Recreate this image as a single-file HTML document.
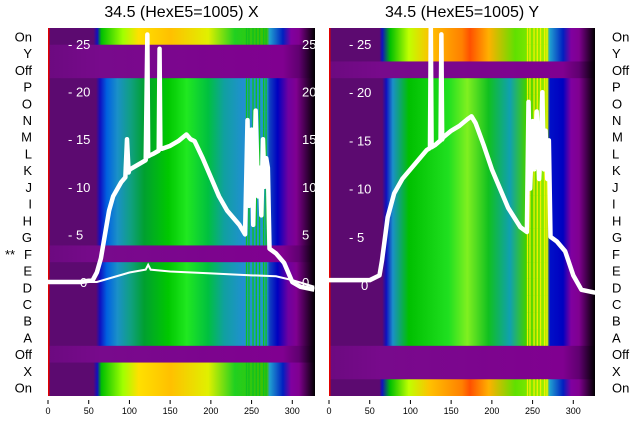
<!DOCTYPE html>
<html><head><meta charset="utf-8"><style>
body{margin:0;background:#fff;width:640px;height:440px;overflow:hidden;font-family:"Liberation Sans","DejaVu Sans",sans-serif}
svg{display:block}
</style></head><body>
<svg id="c" width="640" height="440" xmlns="http://www.w3.org/2000/svg">
<defs>
<linearGradient id="gData" x1="0" x2="1" y1="0" y2="0">
<stop offset="0" stop-color="#5c0a70"/><stop offset="0.18" stop-color="#5c0a70"/><stop offset="0.195" stop-color="#1010c0"/><stop offset="0.22" stop-color="#0060e0"/><stop offset="0.26" stop-color="#1a90c8"/><stop offset="0.31" stop-color="#10a080"/><stop offset="0.36" stop-color="#00a030"/><stop offset="0.45" stop-color="#00c800"/><stop offset="0.52" stop-color="#20e820"/><stop offset="0.6" stop-color="#00c040"/><stop offset="0.66" stop-color="#10a0a0"/><stop offset="0.73" stop-color="#2090d0"/><stop offset="0.82" stop-color="#2098c8"/><stop offset="0.83" stop-color="#1040c0"/><stop offset="0.86" stop-color="#0000c0"/><stop offset="0.9" stop-color="#7000a0"/><stop offset="0.93" stop-color="#800090"/><stop offset="1" stop-color="#000"/>
</linearGradient>
<linearGradient id="gDataR" x1="0" x2="1" y1="0" y2="0">
<stop offset="0" stop-color="#5c0a70"/><stop offset="0.2" stop-color="#5c0a70"/><stop offset="0.215" stop-color="#1010c0"/><stop offset="0.24" stop-color="#1a90c8"/><stop offset="0.3" stop-color="#00c000"/><stop offset="0.45" stop-color="#20e020"/><stop offset="0.52" stop-color="#80f020"/><stop offset="0.6" stop-color="#10c020"/><stop offset="0.68" stop-color="#10a0b0"/><stop offset="0.74" stop-color="#40d000"/><stop offset="0.82" stop-color="#a0f000"/><stop offset="0.83" stop-color="#0010c8"/><stop offset="0.88" stop-color="#0000c0"/><stop offset="0.91" stop-color="#8000a0"/><stop offset="0.94" stop-color="#800090"/><stop offset="1" stop-color="#000"/>
</linearGradient>
<linearGradient id="gOn" x1="0" x2="1" y1="0" y2="0">
<stop offset="0" stop-color="#5c0a70"/><stop offset="0.17" stop-color="#5c0a70"/><stop offset="0.185" stop-color="#1010c0"/><stop offset="0.2" stop-color="#00c000"/><stop offset="0.28" stop-color="#a0ff00"/><stop offset="0.34" stop-color="#ffe000"/><stop offset="0.46" stop-color="#ffc000"/><stop offset="0.6" stop-color="#e0f000"/><stop offset="0.7" stop-color="#20d020"/><stop offset="0.82" stop-color="#40c000"/><stop offset="0.83" stop-color="#20a0d0"/><stop offset="0.88" stop-color="#0020c0"/><stop offset="0.91" stop-color="#8000a0"/><stop offset="0.94" stop-color="#800090"/><stop offset="1" stop-color="#000"/>
</linearGradient>
<linearGradient id="gOnR" x1="0" x2="1" y1="0" y2="0">
<stop offset="0" stop-color="#5c0a70"/><stop offset="0.19" stop-color="#5c0a70"/><stop offset="0.2" stop-color="#1010c0"/><stop offset="0.23" stop-color="#00c000"/><stop offset="0.3" stop-color="#c0ff00"/><stop offset="0.38" stop-color="#ffc000"/><stop offset="0.5" stop-color="#ff8000"/><stop offset="0.53" stop-color="#ff5000"/><stop offset="0.6" stop-color="#ffb000"/><stop offset="0.7" stop-color="#60e000"/><stop offset="0.82" stop-color="#a0f000"/><stop offset="0.83" stop-color="#20a0d0"/><stop offset="0.88" stop-color="#0020c0"/><stop offset="0.91" stop-color="#8000a0"/><stop offset="0.94" stop-color="#800090"/><stop offset="1" stop-color="#000"/>
</linearGradient>
<linearGradient id="gOff" x1="0" x2="1" y1="0" y2="0">
<stop offset="0" stop-color="#6c0a80"/><stop offset="0.2" stop-color="#780a8c"/><stop offset="0.88" stop-color="#800090"/><stop offset="0.94" stop-color="#600070"/><stop offset="1" stop-color="#000"/>
</linearGradient>
<clipPath id="clipL"><rect x="48" y="28" width="270" height="368"/></clipPath>
<clipPath id="clipR"><rect x="329" y="28" width="266" height="368"/></clipPath>
</defs>
</svg>
<script>
const rowLabels = ['On','Y','Off','P','O','N','M','L','K','J','I','H','G','F','E','D','C','B','A','Off','X','On'];
const rowTypesL = ['on','off','off','data','data','data','data','data','data','data','data','data','data','off','data','data','data','data','data','off','on','on'];
const rowTypesR = ['on','on','off','data','data','data','data','data','data','data','data','data','data','data','data','data','data','data','data','off','off','on'];
const stripeX = [243,246,251,255,259,264,267];
const xTicks = [0,50,100,150,200,250,300];
const yTicks = [0,5,10,15,20,25];
const lineLX = [0,40,55,60,65,70,75,80,90,95,97,99,100,110,120,122,123,125,130,136,137,138,140,150,160,170,175,180,190,200,210,220,235,242,245,247,250,252,255,258,260,262,264,266,268,270,272,280,290,300,310,327];
const lineLY = [0,0,0.2,1,2.5,5,7.5,9,10.5,11,15,11.5,11.8,12.3,12.8,26,13.2,13.3,13.5,13.8,24.5,14,14,14.3,14.8,15.5,15,14.8,13,11,9,7.5,6,5,17,8,16,6,18,9,12,7,15,10,13,12,3.5,3,2,0,-0.5,-0.8];
const thinLX = [0,60,80,100,120,123,126,150,200,250,280,300,327];
const thinLY = [0,0,0.5,1,1.3,1.8,1.3,1.1,0.9,0.7,0.6,0.2,-0.5];
const lineRX = [0,50,62,65,72,80,90,100,110,120,124,125,126,130,137,138,139,140,150,160,170,175,180,190,200,210,220,235,243,245,247,250,252,255,258,260,262,264,266,268,270,272,280,290,300,310,327];
const lineRY = [0.5,0.5,1,2.5,7,9.5,11,12,13,14,14.2,27,14.3,14.5,15,26,15.1,15.3,16,16.5,17.2,17.5,16.8,14.5,12,10,8,6,5.5,19,10,17,12,18,11,14,20,12,16,11,15,5,4.5,3.5,1,-0.5,-0.8];

const svg = document.getElementById('c');
const NS = 'http://www.w3.org/2000/svg';
const top0 = 28, bot0 = 396, rowH = (bot0 - top0) / rowLabels.length;
function mk(tag, attrs, parent) { const e = document.createElementNS(NS, tag); for (const k in attrs) e.setAttribute(k, attrs[k]); (parent || svg).appendChild(e); return e; }

function panel(px0, pw, types, onGrad, dataGrad, lx, ly, thinX, thinY, clip, title, side, yScale, y0, stripeCol) {
  const xs = v => px0 + v * 0.8143;
  const ys = v => y0 - v * yScale;
  const g = mk('g', {'clip-path': 'url(#' + clip + ')'});
  
  
  types.forEach((t, i) => {
    const r = mk('rect', {x: px0, y: top0 + i * rowH, width: pw, height: rowH + 0.5, fill: t === 'on' ? 'url(#' + onGrad + ')' : t === 'off' ? 'url(#gOff)' : 'url(#' + dataGrad + ')'}, g);
    
    
    if (t !== 'off') {
      stripeX.forEach(sx => {
        const s = mk('rect', {x: xs(sx), y: top0 + i * rowH, width: 1.3, height: rowH + 0.5, fill: stripeCol}, g);
        
        
      });
    }
  });
  mk('rect', {x: px0, y: top0, width: 1.5, height: bot0 - top0, fill: '#e00000'}, g);
  yTicks.forEach(v => {
    const t = mk('text', {x: px0 + 20, y: ys(v) + 5, fill: '#fff', 'font-size': '13'}, g);
    t.textContent = (v === 0 ? '' : '- ') + v;
    if (v === 0) t.setAttribute('x', px0 + 32);
    
    
    if (side === 'left') {
      const t2 = mk('text', {x: 302, y: ys(v) + 5, fill: '#fff', 'font-size': '13'}, g);
      t2.textContent = v;
      
      
    }
  });
  if (thinX) {
    const p = mk('polyline', {points: thinX.map((x, i) => xs(x) + ',' + ys(thinY[i])).join(' '), fill: 'none', stroke: '#fff', 'stroke-width': 2}, g);
    
    
  }
  const p = mk('polyline', {points: lx.map((x, i) => xs(x) + ',' + ys(ly[i])).join(' '), fill: 'none', stroke: '#fff', 'stroke-width': 4.5, 'stroke-linejoin': 'round'}, g);
  
  
  xTicks.forEach(v => {
    mk('line', {x1: xs(v), x2: xs(v), y1: 400, y2: 404, stroke: '#000', 'stroke-width': 1});
    const t = mk('text', {x: xs(v), y: 414, 'text-anchor': 'middle', 'font-size': '9', fill: '#000'});
    t.textContent = v;
    
    
  });
  const tt = mk('text', {x: px0 + pw / 2, y: 17, 'text-anchor': 'middle', 'font-size': '16', fill: '#000'});
  tt.textContent = title;
  
  
}
panel(48, 267, rowTypesL, 'gOn', 'gData', lineLX, lineLY, thinLX, thinLY, 'clipL', '34.5 (HexE5=1005) X', 'left', 9.52, 282, '#10c020');
panel(329, 266, rowTypesR, 'gOnR', 'gDataR', lineRX, lineRY, null, null, 'clipR', '34.5 (HexE5=1005) Y', 'right', 9.64, 285, '#f0f000');

rowLabels.forEach((l, i) => {
  const y = top0 + (i + 0.5) * rowH + 5;
  const a = mk('text', {x: 32, y: y, 'text-anchor': 'end', 'font-size': '13', fill: '#000'});
  a.textContent = l;
  
  
  const b = mk('text', {x: 612, y: y, 'font-size': '13', fill: '#000'});
  b.textContent = l;
  
  
});
const st = mk('text', {x: 5, y: top0 + 13.5 * rowH + 5, 'font-size': '13', fill: '#000'});
st.textContent = '**';


</script>
</body></html>
